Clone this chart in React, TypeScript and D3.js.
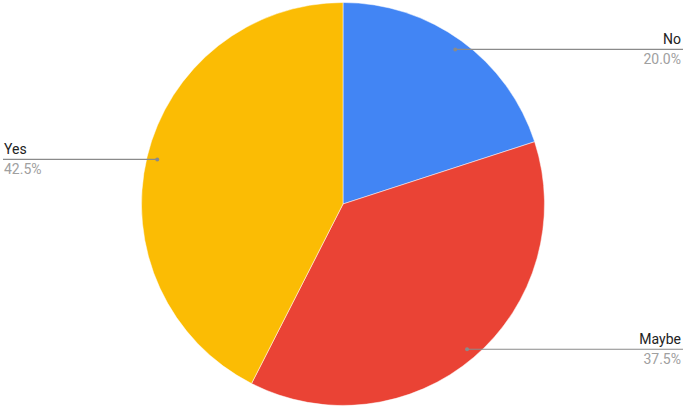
import React, { useEffect, useRef } from 'react';
import * as d3 from 'd3';

const categories = ['No', 'Maybe', 'Yes'];
const shares = [20.0, 37.5, 42.5];
const colors = ['#4285F4', '#EA4335', '#FBBC04'];

const W = 685;
const H = 409;

const App: React.FC = () => {
  const svgRef = useRef<SVGSVGElement>(null);

  useEffect(() => {
    document.body.style.margin = '0';
    if (!svgRef.current) return;
    const svg = d3.select(svgRef.current);
    svg.selectAll('*').remove();

    const cx = 343;
    const cy = 204;
    const r = 201.5;

    const data = categories.map((c, i) => ({ name: c, value: shares[i], color: colors[i] }));
    const pie = d3.pie<any>().value(d => d.value).sort(null);
    const arcs = pie(data);
    const arc = d3.arc<any>().innerRadius(0).outerRadius(r);

    const g = svg.append('g').attr('transform', `translate(${cx},${cy})`);
    g.selectAll('path')
      .data(arcs)
      .enter()
      .append('path')
      .attr('d', arc)
      .attr('fill', d => d.data.color)
      .attr('stroke', '#fff')
      .attr('stroke-width', 0.5);

    // labels with leader lines
    arcs.forEach(a => {
      const mid = (a.startAngle + a.endAngle) / 2;
      const px = cx + Math.sin(mid) * r * 0.948;
      const py = cy - Math.cos(mid) * r * 0.948;
      const right = Math.sin(mid) > 0;
      const endX = right ? 683 : 3;
      const tx = right ? 681 : 4;
      const anchor = right ? 'end' : 'start';

      svg.append('line')
        .attr('x1', px).attr('y1', py)
        .attr('x2', endX).attr('y2', py)
        .attr('stroke', '#8a8a8a')
        .attr('stroke-width', 1.2);
      svg.append('circle')
        .attr('cx', px).attr('cy', py).attr('r', 2)
        .attr('fill', '#8a8a8a');
      svg.append('text')
        .attr('x', tx).attr('y', py - 5)
        .attr('text-anchor', anchor)
        .attr('font-family', 'Roboto, Arial, sans-serif')
        .attr('font-size', 14)
        .attr('fill', '#222')
        .text(a.data.name);
      svg.append('text')
        .attr('x', tx).attr('y', py + 15)
        .attr('text-anchor', anchor)
        .attr('font-family', 'Roboto, Arial, sans-serif')
        .attr('font-size', 14)
        .attr('fill', '#a0a0a0')
        .text(`${a.data.value.toFixed(1)}%`);
    });
  }, []);

  return <svg ref={svgRef} width={W} height={H} style={{ display: 'block', background: '#fff' }} />;
};

export default App;
